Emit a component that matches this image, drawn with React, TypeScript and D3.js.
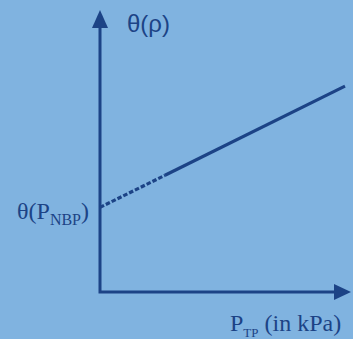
import React from "react";
import * as d3 from "d3";

// Saturated vapour pressure relation: theta grows linearly with pressure
const pressureKPa = [0, 2.6, 9.8];
const theta = [3.0, 4.14, 7.3];
// index where the measured (solid) segment begins; before it is extrapolated
const measuredFrom = 1;

const yAxisLabel = "θ(ρ)";
const interceptLabel = "θ(P";
const interceptSub = "NBP";
const xAxisLabel = "P";
const xAxisSub = "TP";
const xAxisUnit = " (in kPa)";

const W = 353;
const H = 339;
const ink = "#1c4386";
const paper = "#80b3e0";

export default function App() {
  const x = d3.scaleLinear().domain([0, 10]).range([100, 350]);
  const y = d3.scaleLinear().domain([0, 10]).range([292, 10]);
  const pts = pressureKPa.map((p, i) => [p, theta[i]] as [number, number]);
  const line = d3
    .line<[number, number]>()
    .x((d) => x(d[0]))
    .y((d) => y(d[1]));
  const dashed = pts.slice(0, measuredFrom + 1);
  const solid = pts.slice(measuredFrom);

  const x0 = x(0);
  const y0 = y(0);
  const yTop = y(10);
  const xEnd = x(10) + 1;

  return (
    <svg
      width={W}
      height={H}
      style={{ position: "absolute", left: 0, top: 0, display: "block" }}
    >
      <rect width={W} height={H} fill={paper} />
      {/* axes */}
      <path
        d={`M${x0},${yTop + 14} L${x0},${y0} L${xEnd - 14},${y0}`}
        fill="none"
        stroke={ink}
        strokeWidth={3}
      />
      <path
        d={`M${x0},${yTop} L${x0 + 8},${yTop + 18} L${x0 - 8},${yTop + 18} Z`}
        fill={ink}
      />
      <path
        d={`M${xEnd},${y0} L${xEnd - 17},${y0 + 8} L${xEnd - 17},${y0 - 8} Z`}
        fill={ink}
      />
      {/* extrapolated part */}
      <path
        d={line(dashed) ?? ""}
        fill="none"
        stroke={ink}
        strokeWidth={3.2}
        strokeDasharray="4.5 2"
      />
      <path d={line(solid) ?? ""} fill="none" stroke={ink} strokeWidth={3.2} />
      {/* labels */}
      <text
        x={127}
        y={32}
        fontFamily="'Liberation Sans', Arial, sans-serif"
        fontSize={24}
        fill={ink}
      >
        {yAxisLabel}
      </text>
      <text
        x={x0 - 11}
        y={y(theta[0]) + 12}
        textAnchor="end"
        fontFamily="'Liberation Serif', 'Times New Roman', serif"
        fontSize={24}
        fill={ink}
      >
        {interceptLabel}
        <tspan fontSize={16} dy={6}>
          {interceptSub}
        </tspan>
        <tspan dy={-6}>)</tspan>
      </text>
      <text
        x={230}
        y={331}
        fontFamily="'Liberation Serif', 'Times New Roman', serif"
        fontSize={24}
        fill={ink}
      >
        {xAxisLabel}
        <tspan fontSize={13} dy={6}>
          {xAxisSub}
        </tspan>
        <tspan dy={-6}>{xAxisUnit}</tspan>
      </text>
    </svg>
  );
}
